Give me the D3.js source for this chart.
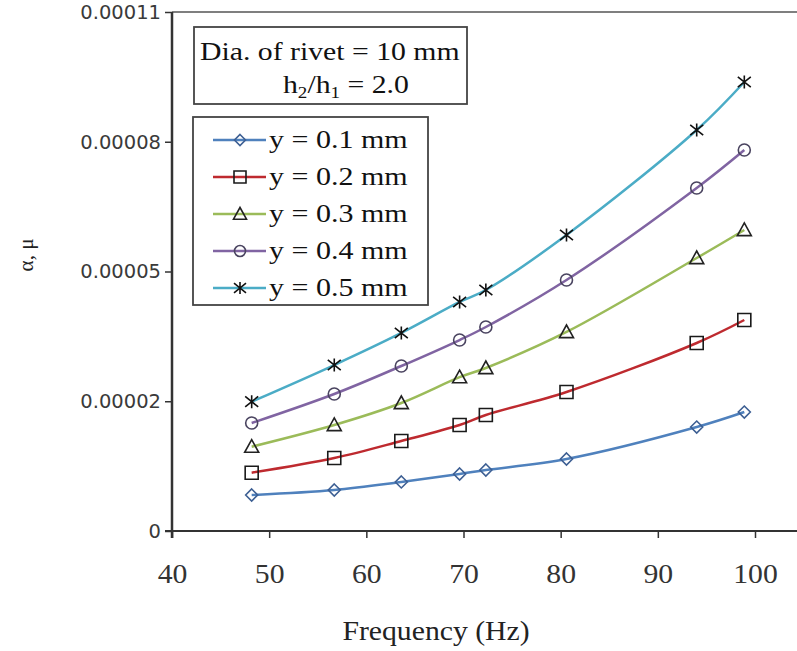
<!DOCTYPE html>
<html>
<head>
<meta charset="utf-8">
<script src="https://cdn.jsdelivr.net/npm/d3@7"></script>
<style>
  body { margin: 0; background: #fff; }
</style>
</head>
<body>
<div id="graph"></div>
<script>
// data
const freq = [48.2, 56.7, 63.6, 69.6, 72.3, 80.6, 94.0, 98.9];
const y01 = [7.63e-6, 8.69e-6, 10.39e-6, 12.08e-6, 12.93e-6, 15.26e-6, 22.04e-6, 25.22e-6];
const y02 = [12.36e-6, 15.47e-6, 19.08e-6, 22.47e-6, 24.59e-6, 29.46e-6, 39.85e-6, 44.72e-6];
const y03 = [17.87e-6, 22.47e-6, 27.13e-6, 32.6e-6, 34.55e-6, 42.18e-6, 57.86e-6, 63.8e-6];
const y04 = [22.89e-6, 29.04e-6, 34.97e-6, 40.48e-6, 43.24e-6, 53.2e-6, 72.7e-6, 80.75e-6];
const y05 = [27.41e-6, 35.18e-6, 41.97e-6, 48.54e-6, 51.08e-6, 62.74e-6, 84.99e-6, 95.17e-6];
const seriesNames = ["y = 0.1 mm", "y = 0.2 mm", "y = 0.3 mm", "y = 0.4 mm", "y = 0.5 mm"];
const xTicks = [40, 50, 60, 70, 80, 90, 100];
const yTicks = [0, 0.0000275, 0.000055, 0.0000825, 0.00011];
const yTickLabels = ["0", "0.00002", "0.00005", "0.00008", "0.00011"];

//styling
const colors = ["#4f81bd", "#be2a2f", "#9bbb59", "#8064a2", "#4bacc6"];
const markStroke = ["#3d5f93", "#1a1a1a", "#222", "#4a4460", "#111"];
const marks = ["diamond", "square", "triangle", "circle", "star"];
const markR = [6, 6.5, 7, 6, 6.5];

const chartW = 797;
const chartH = 651;
const plotL = 172, plotR = 755, plotT = 12, plotB = 531;

const series = [y01, y02, y03, y04, y05].map((vals, i) => ({
  name: seriesNames[i],
  idx: i,
  points: vals.map((v, j) => ({ f: freq[j], v: v }))
}));

//scales
const xScale = d3.scaleLinear().domain([40, 100]).range([plotL, plotR]);
const yScale = d3.scaleLinear().domain([0, 0.00011]).range([plotB, plotT]);

const svg = d3.select("#graph").append("svg")
  .attr("width", chartW)
  .attr("height", chartH)
  .style("font-family", "'Liberation Serif', 'Times New Roman', serif");

//marker shapes
function markPath(kind, r) {
  const p = d3.path();
  if (kind === "diamond") {
    p.moveTo(0, -r); p.lineTo(r, 0); p.lineTo(0, r); p.lineTo(-r, 0); p.closePath();
  } else if (kind === "square") {
    p.rect(-r, -r, 2 * r, 2 * r);
  } else if (kind === "triangle") {
    p.moveTo(0, -r); p.lineTo(r, r * 0.8); p.lineTo(-r, r * 0.8); p.closePath();
  } else if (kind === "circle") {
    p.moveTo(r, 0); p.arc(0, 0, r, 0, 2 * Math.PI);
  } else {
    p.moveTo(-r, -r * 0.8); p.lineTo(r, r * 0.8);
    p.moveTo(r, -r * 0.8); p.lineTo(-r, r * 0.8);
    p.moveTo(0, -r); p.lineTo(0, r);
  }
  return p.toString();
}

//plot frame top line
svg.append("line")
  .attr("x1", plotL).attr("x2", chartW)
  .attr("y1", plotT).attr("y2", plotT)
  .attr("stroke", "#555").attr("stroke-width", 1.5);

//axes
const yAxis = d3.axisLeft(yScale)
  .tickValues(yTicks)
  .tickFormat((d, i) => yTickLabels[i])
  .tickSize(7)
  .tickSizeOuter(0)
  .tickPadding(4);
const yG = svg.append("g")
  .attr("transform", "translate(" + plotL + ",0)")
  .call(yAxis);
yG.select(".domain").remove();
yG.selectAll(".tick line").attr("stroke", "#333").attr("stroke-width", 1.5);
yG.selectAll(".tick text")
  .style("font-family", "'DejaVu Sans', sans-serif")
  .style("font-size", "19.5px")
  .attr("fill", "#3a3a3a");
svg.append("line")
  .attr("x1", plotL).attr("x2", plotL)
  .attr("y1", plotT).attr("y2", plotB + 7)
  .attr("stroke", "#333").attr("stroke-width", 2.5);

const xAxis = d3.axisBottom(xScale)
  .tickValues(xTicks)
  .tickSize(7)
  .tickSizeOuter(0)
  .tickPadding(26);
const xG = svg.append("g")
  .attr("transform", "translate(0," + plotB + ")")
  .call(xAxis);
xG.select(".domain").remove();
xG.selectAll(".tick line").attr("stroke", "#333").attr("stroke-width", 1.5);
xG.selectAll(".tick text")
  .style("font-family", "'Liberation Serif', serif")
  .style("font-size", "27px")
  .attr("fill", "#333")
  .attr("transform", "scale(1.1,1)");
svg.append("line")
  .attr("x1", plotL - 7).attr("x2", chartW)
  .attr("y1", plotB).attr("y2", plotB)
  .attr("stroke", "#333").attr("stroke-width", 2);

//axis titles
svg.append("text")
  .text("Frequency (Hz)")
  .attr("transform", "translate(436,640) scale(1.1,1)")
  .attr("text-anchor", "middle")
  .style("font-size", "27px")
  .attr("fill", "#222");
svg.append("text")
  .text("α, μ")
  .attr("transform", "translate(33,255) rotate(-90)")
  .attr("text-anchor", "middle")
  .style("font-size", "21px")
  .attr("fill", "#222");

//lines
const line = d3.line()
  .x(d => xScale(d.f))
  .y(d => yScale(d.v))
  .curve(d3.curveCatmullRom.alpha(0.5));

const sG = svg.selectAll(".series")
  .data(series)
  .enter()
  .append("g")
  .attr("class", "series");

sG.append("path")
  .attr("d", d => line(d.points))
  .attr("fill", "none")
  .attr("stroke", d => colors[d.idx])
  .attr("stroke-width", 2.5);

sG.selectAll(".mark")
  .data(d => d.points.map(p => ({ p: p, idx: d.idx })))
  .enter()
  .append("path")
  .attr("class", "mark")
  .attr("transform", d => "translate(" + xScale(d.p.f) + "," + yScale(d.p.v) + ")")
  .attr("d", d => markPath(marks[d.idx], markR[d.idx]))
  .attr("fill", "none")
  .attr("stroke", d => markStroke[d.idx])
  .attr("stroke-width", 1.6);

//info box
const info = svg.append("g");
info.append("rect")
  .attr("x", 194).attr("y", 27)
  .attr("width", 273).attr("height", 77)
  .attr("fill", "#fff")
  .attr("stroke", "#444").attr("stroke-width", 1.8);
info.append("text")
  .text("Dia. of rivet = 10 mm")
  .attr("transform", "translate(200,60) scale(1.19,1)")
  .style("font-size", "25px")
  .attr("fill", "#111");
const t2 = info.append("text")
  .attr("transform", "translate(283,93) scale(1.19,1)")
  .style("font-size", "25px")
  .attr("fill", "#111");
t2.append("tspan").text("h");
t2.append("tspan").text("2").style("font-size", "16px").attr("dy", 5);
t2.append("tspan").text("/h").attr("dy", -5);
t2.append("tspan").text("1").style("font-size", "16px").attr("dy", 5);
t2.append("tspan").text(" = 2.0").attr("dy", -5);

//legend
const legX = 193, legY = 117, legW = 235, legH = 188;
const legStep = 37;
const legend = svg.append("g");
legend.append("rect")
  .attr("x", legX).attr("y", legY)
  .attr("width", legW).attr("height", legH)
  .attr("fill", "#fff")
  .attr("stroke", "#444").attr("stroke-width", 1.8);

const legItem = legend.selectAll(".leg")
  .data(series)
  .enter()
  .append("g")
  .attr("class", "leg")
  .attr("transform", d => "translate(" + legX + "," + (legY + 23 + d.idx * legStep) + ")");
legItem.append("line")
  .attr("x1", 20).attr("x2", 73)
  .attr("stroke", d => colors[d.idx])
  .attr("stroke-width", 2.5);
legItem.append("path")
  .attr("transform", "translate(47,0)")
  .attr("d", d => markPath(marks[d.idx], markR[d.idx] - 0.5))
  .attr("fill", "none")
  .attr("stroke", d => markStroke[d.idx])
  .attr("stroke-width", 1.6);
legItem.append("text")
  .text(d => d.name)
  .attr("transform", "translate(76,8) scale(1.2,1)")
  .style("font-size", "25px")
  .attr("fill", "#111");
</script>
</body>
</html>
